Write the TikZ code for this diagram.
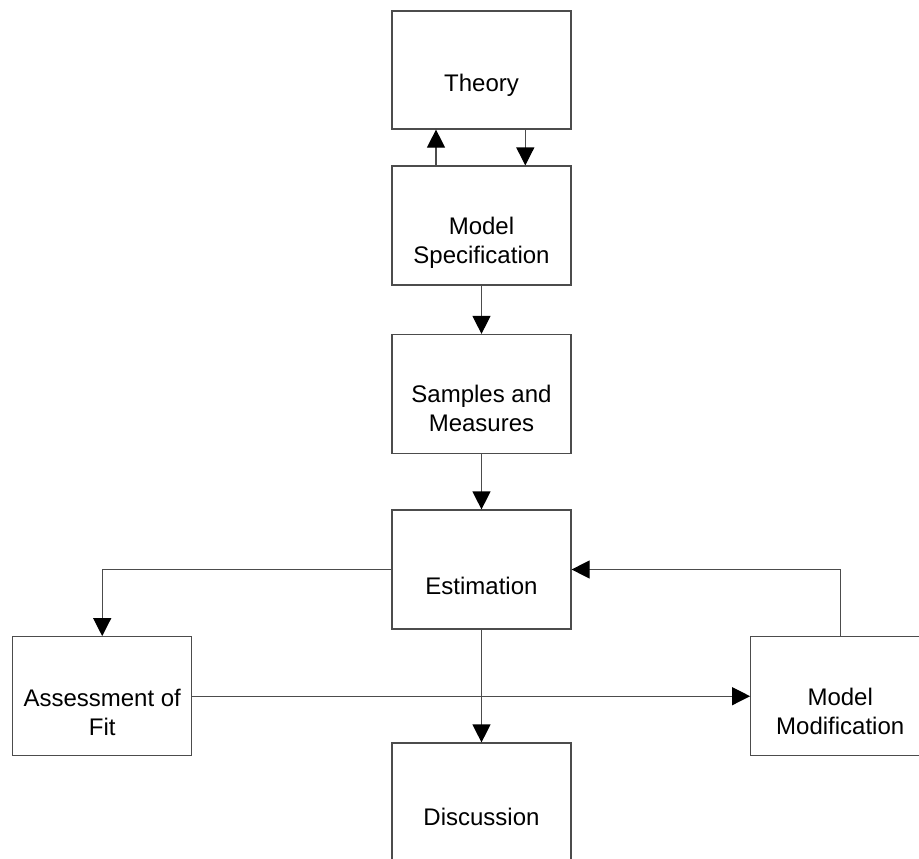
\documentclass[tikz,border=0pt]{standalone}
\usepackage{fontspec}
\setmainfont{Liberation Sans}
\usetikzlibrary{arrows.meta}
\begin{document}
\begin{tikzpicture}[x=1pt,y=-1pt,
  stagebox/.style={draw=black!70, line width=1.2pt, minimum width=179pt, minimum height=119pt, inner sep=0pt},
  stagetext/.style={anchor=base, align=center, inner sep=0pt, font=\fontsize{24}{29}\selectfont},
  flow/.style={draw=black!70, line width=1.2pt, -{Triangle[length=18pt,width=18pt,fill=black,color=black]}}]
\useasboundingbox (0,0) rectangle (919,859);
\clip (0,0) rectangle (919,859);

% boxes
\node[stagebox, minimum height=118pt] (theory) at (481.5,70) {};
\node[stagebox] (spec)    at (481.5,225.5) {};
\node[stagebox] (samples) at (481.5,394) {};
\node[stagebox] (est)     at (481.5,569.5) {};
\node[stagebox] (assess)  at (102.2,696.2) {};
\node[stagebox] (modmod)  at (840.2,696.2) {};
\node[stagebox] (disc)    at (481.5,802.5) {};

% captions, placed by the baseline of their last line
\node[stagetext] (theory-t)  at (481.5,91.5) {Theory};
\node[stagetext] (spec-t)    at (481.5,263.5) {Model\\Specification};
\node[stagetext] (samples-t) at (481.5,431.5) {Samples and\\Measures};
\node[stagetext] (est-t)     at (481.5,594) {Estimation};
\node[stagetext] (assess-t)  at (102.2,735) {Assessment of\\Fit};
\node[stagetext] (modmod-t)  at (840.2,734) {Model\\Modification};
\node[stagetext] (disc-t)    at (481.5,825) {Discussion};

% connectors
\draw[flow] ([xshift=-45.5pt]spec.north) -- ([xshift=-45.5pt]theory.south);
\draw[flow] ([xshift=43.8pt]theory.south) -- ([xshift=43.8pt]spec.north);
\draw[flow] (spec.south) -- (samples.north);
\draw[flow] (samples.south) -- (est.north);
\draw[flow] (est.west) -- (assess.north |- est.west) -- (assess.north);
\draw[flow] (assess.east) -- (modmod.west);
\draw[flow] (est.south) -- (disc.north);
\draw[flow] (modmod.north) -- (modmod.north |- est.east) -- (est.east);
\end{tikzpicture}
\end{document}
